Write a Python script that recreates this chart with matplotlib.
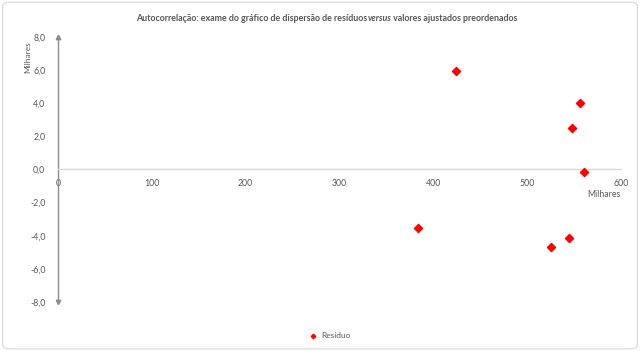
import matplotlib
matplotlib.use("Agg")
import matplotlib.pyplot as plt
from matplotlib.patches import FancyBboxPatch
from matplotlib.ticker import FuncFormatter

# Data (thousands)
fitted = [424, 556, 547.5, 560.6, 383.7, 525, 544.3]
residuals = [5.95, 4.02, 2.51, -0.14, -3.54, -4.68, -4.11]
x_ticks = [0, 100, 200, 300, 400, 500, 600]
y_ticks = [-8, -6, -4, -2, 0, 2, 4, 6, 8]
series_name = "Resíduo"
title_a = "Autocorrelação: exame do gráfico de dispersão de resíduos"
title_b = "versus"
title_c = " valores ajustados preordenados"

plt.rcParams['font.family'] = ['Lato', 'DejaVu Sans']
TXT = '#595959'

fig = plt.figure(figsize=(6.4, 3.51), dpi=100)
fig.patch.set_facecolor('white')
border = FancyBboxPatch((0.004, 0.006), 0.992, 0.988, boxstyle="round,pad=0,rounding_size=0.012",
                        transform=fig.transFigure, facecolor='white', edgecolor='#d9d9d9', lw=0.8, zorder=-10)
fig.patches.append(border)

ax = fig.add_axes([0.0906, 0.1396, 0.8797, 0.755])
ax.set_xlim(0, 600)
ax.set_ylim(-8, 8)
ax.set_facecolor('none')

ax.scatter(fitted, residuals, marker='D', s=17, color='#ff0000', edgecolors='#ff0000', zorder=5, label=series_name)

for s in ['top', 'right']:
    ax.spines[s].set_visible(False)
ax.spines['bottom'].set_position(('data', 0))
ax.spines['bottom'].set_color('#d9d9d9')
ax.spines['bottom'].set_linewidth(1.0)
ax.spines['left'].set_color('#8c8c8c')
ax.spines['left'].set_linewidth(1.0)
# arrow heads on the vertical axis
ax.plot([0], [8], marker='^', color='#8c8c8c', ms=3.2, clip_on=False, zorder=6)
ax.plot([0], [-8], marker='v', color='#8c8c8c', ms=3.2, clip_on=False, zorder=6)

ax.set_xticks(x_ticks)
ax.set_yticks(y_ticks)
ax.yaxis.set_major_formatter(FuncFormatter(lambda v, p: f"{v:.1f}".replace('.', ',')))
ax.xaxis.set_major_formatter(FuncFormatter(lambda v, p: f"{int(v)}"))
ax.tick_params(axis='both', length=0, labelsize=6.3, labelcolor=TXT)
ax.tick_params(axis='x', pad=7)
ax.tick_params(axis='y', pad=9)

fig.text(0.943, 0.447, "Milhares", fontsize=6.3, color=TXT, ha='center', va='center')
fig.text(0.043, 0.838, "Milhares", fontsize=6, color=TXT, ha='center', va='center', rotation=90)

# Title with italic part
fs = 6.4
t1 = fig.text(0, 0.946, title_a, fontsize=fs, fontweight='bold', color=TXT, ha='left', va='center')
t2 = fig.text(0, 0.946, title_b, fontsize=fs, fontweight='bold', fontstyle='italic', color=TXT, ha='left', va='center')
t3 = fig.text(0, 0.946, title_c, fontsize=fs, fontweight='bold', color=TXT, ha='left', va='center')
fig.canvas.draw()
r = fig.canvas.get_renderer()
w1 = t1.get_window_extent(r).width
w2 = t2.get_window_extent(r).width
w3 = t3.get_window_extent(r).width
W = fig.bbox.width
total = w1 + w2 + w3
x0 = 327 - total / 2
t1.set_x(x0 / W)
t2.set_x((x0 + w1) / W)
t3.set_x((x0 + w1 + w2) / W)

leg = fig.legend(loc='center', bbox_to_anchor=(0.512, 0.045), frameon=False, fontsize=6,
                 markerscale=0.55, handletextpad=0.1, labelcolor=TXT)

fig.savefig("out.png", dpi=100)
